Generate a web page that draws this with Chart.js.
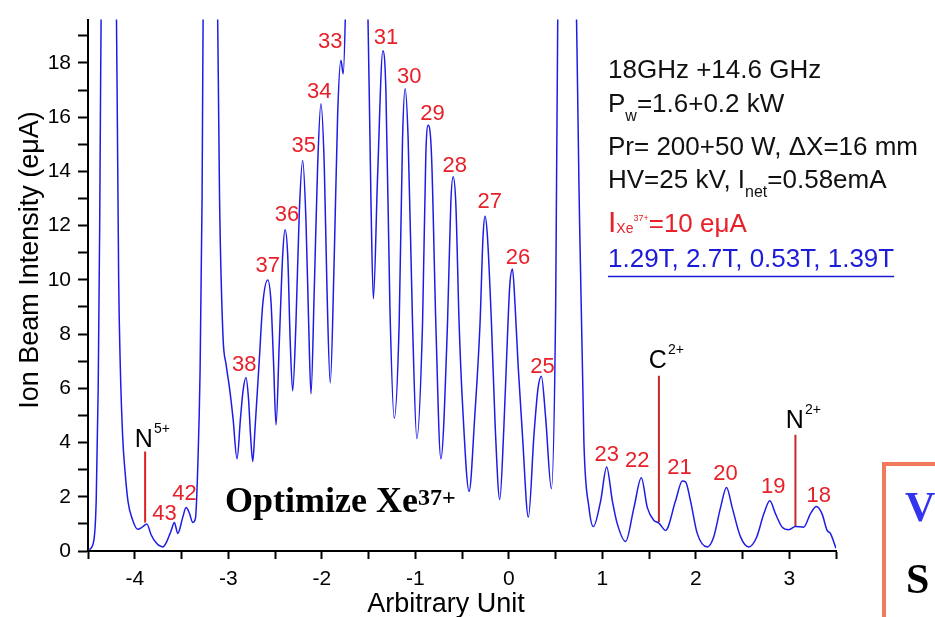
<!DOCTYPE html>
<html>
<head>
<meta charset="utf-8">
<title>Xe37+ spectrum</title>
<script src="https://cdn.jsdelivr.net/npm/chart.js@4.4.1/dist/chart.umd.min.js"></script>
<style>
    html, body { margin: 0; padding: 0; background: #fff; }
    canvas { display: block; }
</style>
</head>
<body>
<canvas id="spectrumChart" width="935" height="617"></canvas>
<script>
// spectrum (x = arbitrary unit, y = eµA)
const specX = [
    -4.484, -4.437, -4.412, -4.391, -4.375, -4.348, -4.274, -4.209, -4.172, -4.156,
    -4.129, -4.103, -4.071, -4.028, -3.969, -3.913, -3.871, -3.825, -3.771, -3.700,
    -3.665, -3.611, -3.576, -3.540, -3.486, -3.451, -3.416, -3.379, -3.351, -3.326,
    -3.301, -3.280, -3.259, -3.194, -3.130, -3.093, -3.056, -3.024, -2.986, -2.949,
    -2.906, -2.869, -2.842, -2.810, -2.783, -2.762, -2.738, -2.714, -2.668, -2.631,
    -2.578, -2.543, -2.516, -2.489, -2.454, -2.418, -2.393, -2.364, -2.337, -2.311,
    -2.276, -2.240, -2.204, -2.169, -2.140, -2.115, -2.080, -2.044, -2.009, -1.973,
    -1.944, -1.909, -1.866, -1.830, -1.795, -1.770, -1.731, -1.667, -1.581, -1.517,
    -1.474, -1.448, -1.403, -1.346, -1.314, -1.271, -1.225, -1.172, -1.136, -1.108,
    -1.076, -1.029, -0.983, -0.922, -0.887, -0.862, -0.826, -0.780, -0.726, -0.655,
    -0.620, -0.595, -0.566, -0.531, -0.491, -0.424, -0.363, -0.307, -0.275, -0.253,
    -0.228, -0.185, -0.145, -0.096, -0.053, -0.014, 0.011, 0.040, 0.067, 0.101,
    0.146, 0.210, 0.270, 0.313, 0.349, 0.395, 0.456, 0.502, 0.529, 0.620,
    0.705, 0.751, 0.804, 0.858, 0.905, 0.983, 1.047, 1.108, 1.161, 1.250,
    1.339, 1.418, 1.482, 1.552, 1.606, 1.677, 1.784, 1.856, 1.891, 1.944,
    2.016, 2.123, 2.190, 2.265, 2.329, 2.390, 2.479, 2.567, 2.650, 2.728,
    2.792, 2.853, 2.924, 2.995, 3.066, 3.155, 3.226, 3.291, 3.351, 3.405,
    3.440, 3.500
];
const specY = [
    0.05, 0.4, 1.9, 6.0, 12.0, 25, 30, 25, 10.0, 7.0,
    4.2, 2.9, 1.8, 1.2, 0.8, 0.9, 1.0, 0.6, 0.3, 0.15,
    0.3, 0.75, 1.05, 0.65, 1.25, 1.6, 1.4, 1.05, 1.2, 3.1,
    6.7, 13.0, 25, 30, 25, 13.0, 7.9, 6.9, 6.0, 4.9,
    3.4, 4.9, 5.9, 6.4, 5.6, 4.3, 3.3, 4.5, 7.05, 9.1,
    10.0, 9.2, 7.0, 4.65, 7.7, 10.9, 11.85, 10.9, 7.7, 5.9,
    8.4, 12.5, 14.4, 12.2, 8.4, 5.8, 9.65, 14.2, 16.5, 14.2,
    9.65, 6.2, 10.9, 16.1, 18.1, 17.6, 22, 28, 28, 22,
    13.0, 9.3, 13.8, 18.45, 17.0, 9.0, 4.9, 8.4, 15.2, 17.05,
    15.2, 8.4, 4.15, 8.4, 14.6, 15.7, 14.6, 8.4, 3.4, 8.4,
    12.8, 13.8, 12.8, 8.4, 5.2, 2.2, 5.0, 8.4, 11.6, 12.35,
    11.6, 8.4, 4.6, 1.9, 4.5, 7.9, 9.8, 10.4, 9.1, 6.8,
    4.3, 1.25, 4.3, 6.0, 6.45, 4.9, 2.3, 9.1, 22, 30,
    24, 13.5, 4.0, 1.6, 0.9, 1.85, 3.1, 1.85, 1.0, 0.35,
    1.6, 2.7, 1.6, 1.13, 1.03, 0.76, 1.85, 2.58, 2.55, 1.85,
    0.65, 0.15, 0.5, 1.6, 2.34, 1.6, 0.52, 0.15, 0.5, 1.37,
    1.85, 1.37, 0.88, 0.78, 0.9, 0.88, 1.37, 1.64, 1.37, 0.76,
    0.65, 0.1
];

// Xe charge state labels
const peakLabels = ['43', '42', '38', '37', '36', '35', '34', '33', '31', '30', '29',
    '28', '27', '26', '25', '23', '22', '21', '20', '19', '18'];
const peakLabelX = [-3.683, -3.469, -2.828, -2.578, -2.372, -2.193, -2.027, -1.909, -1.314, -1.065, -0.815,
    -0.577, -0.203, 0.099, 0.360, 1.047, 1.375, 1.827, 2.318, 2.828, 3.315];
const peakLabelY = [1.38, 2.12, 6.88, 10.52, 12.4, 14.95, 16.95, 18.79, 18.92, 17.49, 16.13,
    14.22, 12.86, 10.8, 6.8, 3.53, 3.31, 3.07, 2.83, 2.36, 2.04];

// contaminant markers
const speciesName = ['N', 'C', 'N'];
const speciesCharge = ['5+', '2+', '2+'];
const speciesX = [-3.889, 1.606, 3.066];
const speciesLow = [1.05, 1.07, 0.9];
const speciesHigh = [3.67, 6.46, 4.29];
const speciesTextX = [-3.903, 1.595, 3.059];
const speciesTextY = [3.85, 6.76, 4.52];

const xMin = -4.5, xMax = 3.5;
const yMin = 0, yMax = 19.6;

const SANS = "'Liberation Sans', Arial, sans-serif";
const SERIF = "'Liberation Serif', 'Times New Roman', serif";

// draws text runs one after another (sub/superscripts)
function drawRuns(ctx, x, y, runs) {
    let cx = x;
    runs.forEach(r => {
        ctx.font = r.font;
        ctx.fillStyle = r.color;
        ctx.fillText(r.t, cx, y + (r.dy || 0));
        cx += ctx.measureText(r.t).width;
    });
    return cx;
}

const textLayer = {
    id: 'textLayer',
    afterDatasetsDraw(chart) {
        const ctx = chart.ctx;
        const xs = chart.scales.x;
        const ys = chart.scales.y;
        ctx.save();

        // peak numbers
        ctx.textAlign = 'center';
        ctx.textBaseline = 'middle';
        ctx.font = '22px ' + SANS;
        ctx.fillStyle = '#e8202a';
        peakLabels.forEach((t, i) => {
            ctx.fillText(t, xs.getPixelForValue(peakLabelX[i]), ys.getPixelForValue(peakLabelY[i]));
        });

        // species names
        ctx.textAlign = 'left';
        ctx.textBaseline = 'alphabetic';
        speciesName.forEach((n, i) => {
            ctx.font = '25px ' + SANS;
            const w = ctx.measureText(n).width;
            const px = xs.getPixelForValue(speciesTextX[i]) - w / 2;
            const py = ys.getPixelForValue(speciesTextY[i]);
            drawRuns(ctx, px, py, [
                { t: n, font: '25px ' + SANS, color: '#000' },
                { t: ' ', font: '4px ' + SANS, color: '#000' },
                { t: speciesCharge[i], font: '14px ' + SANS, color: '#000', dy: -14 }
            ]);
        });

        // axis titles
        ctx.fillStyle = '#000';
        ctx.font = '27px ' + SANS;
        ctx.textAlign = 'center';
        ctx.fillText('Arbitrary Unit', 446, 612);
        ctx.save();
        ctx.translate(38, 260);
        ctx.rotate(-Math.PI / 2);
        ctx.fillText('Ion Beam Intensity (e\u03bcA)', 0, 0);
        ctx.restore();

        // source conditions
        ctx.textAlign = 'left';
        const f = '26px ' + SANS;
        const fs = '16px ' + SANS;
        drawRuns(ctx, 608, 78, [{ t: '18GHz +14.6 GHz', font: f, color: '#111' }]);
        drawRuns(ctx, 608, 112, [
            { t: 'P', font: f, color: '#111' },
            { t: 'w', font: fs, color: '#111', dy: 9 },
            { t: '=1.6+0.2 kW', font: f, color: '#111' }
        ]);
        drawRuns(ctx, 608, 155, [{ t: 'Pr= 200+50 W, \u0394X=16 mm', font: f, color: '#111' }]);
        drawRuns(ctx, 608, 188, [
            { t: 'HV=25 kV, I', font: f, color: '#111' },
            { t: 'net', font: fs, color: '#111', dy: 9 },
            { t: '=0.58emA', font: f, color: '#111' }
        ]);
        drawRuns(ctx, 608, 232, [
            { t: 'I', font: '30px ' + SANS, color: '#e8202a' },
            { t: 'Xe', font: '14px ' + SANS, color: '#e8202a', dy: 1 },
            { t: '37+', font: '9px ' + SANS, color: '#e8202a', dy: -11 },
            { t: '=10 e\u03bcA', font: f, color: '#e8202a' }
        ]);
        const endX = drawRuns(ctx, 608, 267, [{ t: '1.29T, 2.7T, 0.53T, 1.39T', font: f, color: '#1c1cd8' }]);
        ctx.strokeStyle = '#1c1cd8';
        ctx.lineWidth = 1.6;
        ctx.beginPath();
        ctx.moveTo(608, 276.5);
        ctx.lineTo(endX, 276.5);
        ctx.stroke();

        // Optimize Xe37+
        drawRuns(ctx, 225, 512, [
            { t: 'Optimize Xe', font: 'bold 36px ' + SERIF, color: '#000' },
            { t: '37+', font: 'bold 24px ' + SERIF, color: '#000', dy: -7 }
        ]);

        // cut off box on the right
        ctx.strokeStyle = '#f27a5c';
        ctx.lineWidth = 4;
        ctx.strokeRect(884, 464, 80, 180);
        drawRuns(ctx, 905, 521, [{ t: 'V', font: 'bold 42px ' + SERIF, color: '#3434f0' }]);
        drawRuns(ctx, 906, 593, [{ t: 'S', font: 'bold 42px ' + SERIF, color: '#000' }]);

        ctx.restore();
    }
};

const datasets = [{
    data: specX.map((x, i) => ({ x: x, y: specY[i] })),
    borderColor: '#1c1ce6',
    borderWidth: 1.5,
    pointRadius: 0,
    showLine: true,
    cubicInterpolationMode: 'monotone'
}];

speciesX.forEach((x, i) => {
    datasets.push({
        data: [{ x: x, y: speciesLow[i] }, { x: x, y: speciesHigh[i] }],
        borderColor: i === 0 ? '#e02020' : '#c8282a',
        borderWidth: 2,
        pointRadius: 0,
        showLine: true
    });
});

new Chart(document.getElementById('spectrumChart'), {
    type: 'scatter',
    data: { datasets: datasets },
    options: {
        responsive: false,
        animation: false,
        layout: { padding: { top: 12, right: 99, left: 0, bottom: 0 } },
        plugins: {
            legend: { display: false },
            tooltip: { enabled: false }
        },
        scales: {
            x: {
                type: 'linear',
                min: xMin,
                max: xMax,
                afterFit: function (scale) { scale.height = 66; },
                border: { display: true, color: '#000', width: 2 },
                grid: { drawOnChartArea: false, drawTicks: true, tickLength: 8, tickColor: '#000', tickWidth: 2 },
                ticks: {
                    stepSize: 0.5,
                    includeBounds: false,
                    autoSkip: false,
                    maxTicksLimit: 100,
                    maxRotation: 0,
                    padding: 8,
                    color: '#000',
                    font: { family: SANS, size: 21 },
                    callback: function (v) {
                        return Number.isInteger(v) ? String(v) : '';
                    }
                }
            },
            y: {
                min: yMin,
                max: yMax,
                afterFit: function (scale) { scale.width = 88; },
                border: { display: true, color: '#000', width: 2 },
                grid: { drawOnChartArea: false, drawTicks: true, tickLength: 10, tickColor: '#000', tickWidth: 2 },
                ticks: {
                    stepSize: 1,
                    includeBounds: false,
                    autoSkip: false,
                    maxTicksLimit: 100,
                    padding: 7,
                    color: '#000',
                    font: { family: SANS, size: 21 },
                    callback: function (v) {
                        return v % 2 === 0 ? String(v) : '';
                    }
                }
            }
        }
    },
    plugins: [textLayer]
});
</script>
</body>
</html>
